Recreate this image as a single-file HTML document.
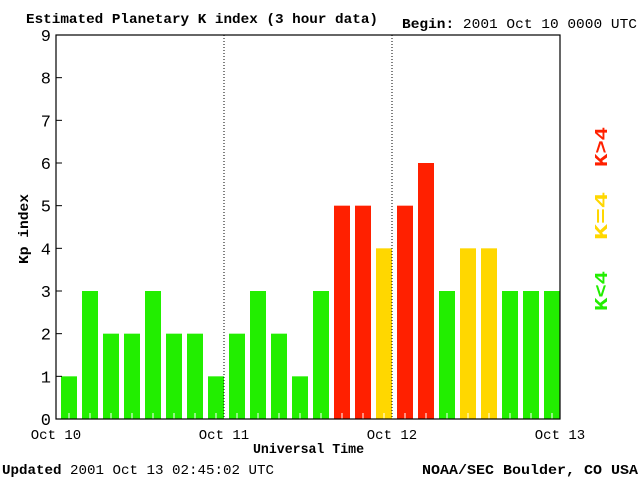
<!DOCTYPE html>
<html><head><meta charset="utf-8"><style>
html,body{margin:0;padding:0;background:#fff;}
svg{display:block;}
text{font-family:"Liberation Mono",monospace;fill:#000;}
</style></head><body>
<svg width="640" height="480">
<text x="26" y="23" font-size="14" font-weight="bold" textLength="352" lengthAdjust="spacingAndGlyphs">Estimated Planetary K index (3 hour data)</text>
<text x="402" y="28" font-size="14" textLength="235" lengthAdjust="spacingAndGlyphs"><tspan font-weight="bold">Begin:</tspan> 2001 Oct 10 0000 UTC</text>
<text x="2" y="474" font-size="14" textLength="272" lengthAdjust="spacingAndGlyphs"><tspan font-weight="bold">Updated</tspan> 2001 Oct 13 02:45:02 UTC</text>
<text x="422" y="474" font-size="14" textLength="216" lengthAdjust="spacingAndGlyphs" font-weight="bold">NOAA/SEC Boulder, CO USA</text>
<text x="253" y="453" font-size="14" font-weight="bold" textLength="111" lengthAdjust="spacingAndGlyphs">Universal Time</text>
<text transform="translate(28,264) rotate(-90)" font-size="14" font-weight="bold" textLength="70" lengthAdjust="spacingAndGlyphs">Kp index</text>
<g font-size="18" font-weight="bold">
<text transform="translate(607,167) rotate(-90)" style="fill:#ff2000" textLength="40" lengthAdjust="spacingAndGlyphs">K&gt;4</text>
<text transform="translate(607,240) rotate(-90)" style="fill:#ffd700" textLength="48" lengthAdjust="spacingAndGlyphs">K=4</text>
<text transform="translate(607,311) rotate(-90)" style="fill:#22ee00" textLength="40" lengthAdjust="spacingAndGlyphs">K&lt;4</text>
</g>
<g id="plot"></g>
</svg>
<script>
const kpValues=[1,3,2,2,3,2,2,1,2,3,2,1,3,5,5,4,5,6,3,4,4,3,3,3];
const yTicks=[0,1,2,3,4,5,6,7,8,9];
const dayLabels=["Oct 10","Oct 11","Oct 12","Oct 13"];
const L=56,R=560,T=35,B=419,NS="http://www.w3.org/2000/svg";
const g=document.getElementById('plot');
const xs=i=>L+(R-L)*i/kpValues.length;
const ys=v=>B-(B-T)*v/9;
function mk(t,a){const e=document.createElementNS(NS,t);for(const k in a)e.setAttribute(k,a[k]);g.appendChild(e);return e;}
const slot=(R-L)/kpValues.length;
kpValues.forEach((v,i)=>{
 const c=v>4?'#ff2000':(v==4?'#ffd700':'#22ee00');
 const r=mk('rect',{x:xs(i)+5,y:ys(v),width:slot-5,height:B-ys(v),fill:c});
 
 
 const t=mk('line',{x1:xs(i)+slot/2+2.5,x2:xs(i)+slot/2+2.5,y1:B-6,y2:B,stroke:'#fff'});
 
 
});
yTicks.forEach(v=>{
 const l=mk('line',{x1:L,x2:L+6,y1:ys(v),y2:ys(v),stroke:'#000'});
 
 
 const t=mk('text',{x:L-5,y:ys(v)+6,'font-size':17,'text-anchor':'end'});
 t.textContent=v;
 
 
});
dayLabels.forEach((d,i)=>{
 const x=L+(R-L)*i/(dayLabels.length-1);
 const t=mk('text',{x:x,y:439,'font-size':14,'text-anchor':'middle'});
 t.textContent=d;
 
 
 if(i>0&&i<dayLabels.length-1){
  const l=mk('line',{x1:x,x2:x,y1:T,y2:B,stroke:'#000','stroke-dasharray':'1,2'});
  
  
 }
});
const f=mk('rect',{x:L,y:T,width:R-L,height:B-T,fill:'none',stroke:'#000','stroke-width':1.2});


</script>
</body></html>
